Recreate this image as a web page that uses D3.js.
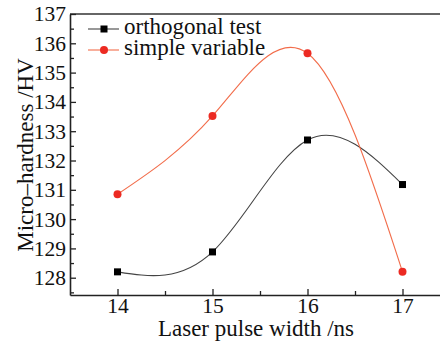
<!DOCTYPE html>
<html>
<head>
<meta charset="utf-8">
<script src="https://cdn.jsdelivr.net/npm/d3@7"></script>
<style>
  body { margin: 0; background: #fff; }
</style>
</head>
<body>
<script>
// chart data
const pulseWidths = [14, 15, 16, 17];
const orthogonalTest = [128.2, 128.88, 132.7, 131.18];
const simpleVariable = [130.85, 133.52, 135.66, 128.2];
const seriesNames = ["orthogonal test", "simple variable"];
const xTicks = [14, 15, 16, 17];
const yTicks = [128, 129, 130, 131, 132, 133, 134, 135, 136, 137];

const serif = "'Liberation Serif'";

const margin = { top: 14, right: -10, bottom: 46, left: 70 },
    width = 440 - margin.left - margin.right,
    height = 341 - margin.top - margin.bottom;

const svg = d3.select("body").append("svg")
    .attr("width", 440)
    .attr("height", 341)
  .append("g")
    .attr("transform", "translate(" + margin.left + "," + margin.top + ")");

const x = d3.scaleLinear().domain([13.5, 17.5]).range([0, width]);
const y = d3.scaleLinear().domain([127.41, 137]).range([height, 0]);

// frame (top edge runs off the right side of the picture)
svg.append("line")
    .attr("x1", 0).attr("x2", width)
    .attr("y1", 0).attr("y2", 0)
    .attr("stroke", "#333").attr("stroke-width", 1.5);

// minor ticks
svg.append("g")
    .attr("transform", "translate(0," + height + ")")
    .call(d3.axisBottom(x).tickValues([14.5, 15.5, 16.5]).tickSize(-4).tickFormat(""))
    .call(g => g.select(".domain").remove())
    .selectAll("line").attr("stroke", "#222").attr("stroke-width", 1.3);
svg.append("g")
    .call(d3.axisLeft(y).tickValues(d3.range(127.5, 137, 1)).tickSize(-4).tickFormat(""))
    .call(g => g.select(".domain").remove())
    .selectAll("line").attr("stroke", "#222").attr("stroke-width", 1.3);

const xAxis = svg.append("g")
    .attr("transform", "translate(0," + height + ")")
    .call(d3.axisBottom(x).tickValues(xTicks).tickFormat(d3.format("d"))
        .tickSize(-6).tickPadding(4).tickSizeOuter(0));
xAxis.select(".domain").attr("stroke", "#222").attr("stroke-width", 1.6);
xAxis.selectAll("line").attr("stroke", "#222").attr("stroke-width", 1.3);
xAxis.selectAll("text").attr("dy", null).attr("y", 18)
    .attr("font-family", serif).style("font-family", serif)
    .style("font-size", "21.5px").attr("fill", "#111");

const yAxis = svg.append("g")
    .call(d3.axisLeft(y).tickValues(yTicks).tickFormat(d3.format("d"))
        .tickSize(-6).tickPadding(4).tickSizeOuter(0));
yAxis.select(".domain").attr("stroke", "#222").attr("stroke-width", 1.6);
yAxis.selectAll("line").attr("stroke", "#222").attr("stroke-width", 1.3);
yAxis.selectAll("text").attr("font-family", serif).style("font-family", serif)
    .style("font-size", "21.5px").attr("fill", "#111");

// axis titles
svg.append("text")
    .attr("x", 186)
    .attr("y", height + 41)
    .style("text-anchor", "middle")
    .style("font-family", serif)
    .style("font-size", "23px")
    .attr("fill", "#111")
    .text("Laser pulse width /ns");

svg.append("text")
    .attr("transform", "rotate(-90)")
    .attr("x", -(155 - margin.top))
    .attr("y", 33 - margin.left)
    .style("text-anchor", "middle")
    .style("font-family", serif)
    .style("font-size", "23px")
    .attr("fill", "#111")
    .text("Micro\u2013hardness /HV");

const line = d3.line()
    .x((d, i) => x(pulseWidths[i]))
    .y(d => y(d))
    .curve(d3.curveNatural);

svg.append("path")
    .datum(orthogonalTest)
    .attr("fill", "none")
    .attr("stroke", "#444")
    .attr("stroke-width", 1.1)
    .attr("d", line);

svg.append("path")
    .datum(simpleVariable)
    .attr("fill", "none")
    .attr("stroke", "#f26d4b")
    .attr("stroke-width", 1.1)
    .attr("d", line);

svg.selectAll(".sq")
    .data(orthogonalTest)
    .enter().append("rect")
    .attr("class", "sq")
    .attr("x", (d, i) => x(pulseWidths[i]) - 3.5)
    .attr("y", d => y(d) - 3.5)
    .attr("width", 7).attr("height", 7)
    .attr("fill", "#000");

svg.selectAll(".dot")
    .data(simpleVariable)
    .enter().append("circle")
    .attr("class", "dot")
    .attr("cx", (d, i) => x(pulseWidths[i]))
    .attr("cy", d => y(d))
    .attr("r", 4)
    .attr("fill", "#ec2a22");

// legend
const legend = svg.append("g").attr("transform", "translate(18,15)");
const legendColors = ["#444", "#f26d4b"];
seriesNames.forEach(function(name, i) {
    const row = legend.append("g").attr("transform", "translate(0," + (i * 21) + ")");
    row.append("line")
        .attr("x1", 0).attr("x2", 31)
        .attr("stroke", legendColors[i]).attr("stroke-width", 1.1);
    if (i === 0) {
        row.append("rect").attr("x", 12.5).attr("y", -3.5).attr("width", 7).attr("height", 7).attr("fill", "#000");
    } else {
        row.append("circle").attr("cx", 16).attr("r", 4).attr("fill", "#ec2a22");
    }
    row.append("text")
        .attr("x", 36)
        .attr("y", 5)
        .style("font-family", serif)
        .style("font-size", "23px")
        .attr("fill", "#111")
        .text(name);
});
</script>
</body>
</html>
